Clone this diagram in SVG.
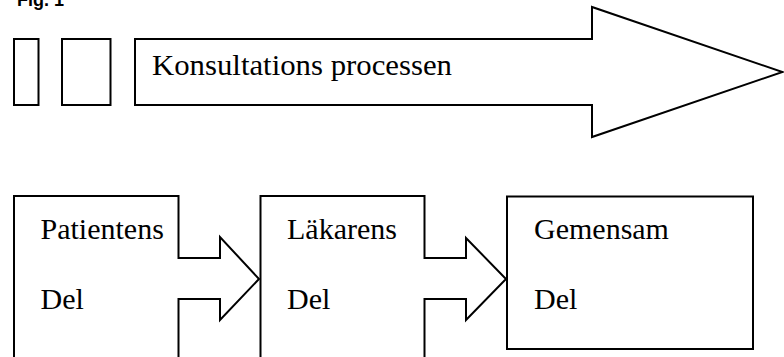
<svg xmlns="http://www.w3.org/2000/svg" width="784" height="357" viewBox="0 0 784 357">
<style>
.s{fill:#fff;stroke:#000;stroke-width:2;stroke-linejoin:miter}
.t{font-family:"Liberation Serif","Times New Roman",serif;font-size:30px;fill:#000}
.f{font-family:"Liberation Sans",Arial,sans-serif;font-size:18px;font-weight:bold;fill:#000}
</style>
<rect width="784" height="357" fill="#fff"/>
<text class="f" x="17" y="6">Fig. 1</text>
<g id="small1"><rect class="s" x="14" y="39" width="24.5" height="66"/></g>
<g id="small2"><rect class="s" x="62" y="39" width="48.5" height="66"/></g>
<g id="process">
<path class="s" d="M135,39 L592,39 L592,7 L782.5,72 L592,137 L592,105 L135,105 Z"/>
<text class="t" x="152" y="75" font-size="31" textLength="300" lengthAdjust="spacingAndGlyphs">Konsultations processen</text>
</g>
<g id="patient">
<path class="s" d="M14,358 L14,196 L178.5,196 L178.5,258 L220,258 L220,237 L259,279 L220,320 L220,299 L178.5,299 L178.5,358"/>
<text class="t" x="40.5" y="239">Patientens</text>
<text class="t" x="40.5" y="309">Del</text>
</g>
<g id="lakare">
<path class="s" d="M260.5,358 L260.5,196 L424.5,196 L424.5,258 L466,258 L466,238 L506,279 L466,320 L466,299 L424.5,299 L424.5,358"/>
<text class="t" x="287" y="239">Läkarens</text>
<text class="t" x="287" y="309">Del</text>
</g>
<g id="gemensam">
<rect class="s" x="507" y="196.5" width="246" height="152.5"/>
<text class="t" x="534" y="239">Gemensam</text>
<text class="t" x="534" y="309">Del</text>
</g>
<g id="connectors"></g>
</svg>
